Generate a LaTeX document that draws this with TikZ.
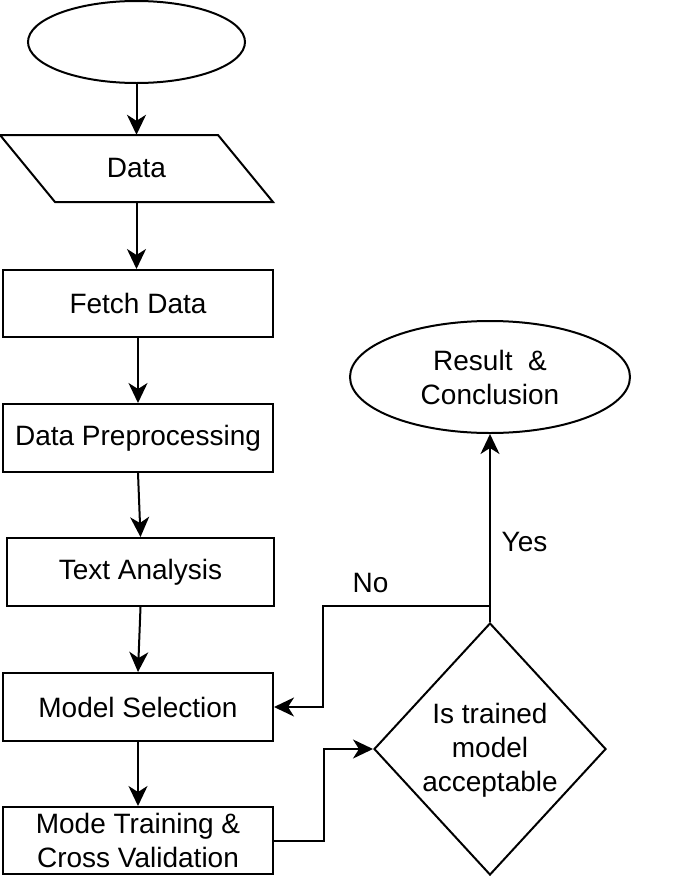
\documentclass[tikz,border=0pt]{standalone}
\usepackage{fontspec}
\setmainfont{Liberation Sans}
\usetikzlibrary{shapes.geometric,arrows.meta}
\begin{document}
\begin{tikzpicture}[x=1pt,y=-1pt,
  every node/.style={font=\fontsize{28}{34}\selectfont, align=center},
  box/.style={draw, line width=2pt, rectangle, inner sep=0pt, minimum width=270pt, minimum height=67pt},
  oval/.style={draw, line width=2pt, ellipse, inner sep=0pt},
  arr/.style={line width=2pt, -{Stealth[length=20pt,width=19pt,inset=6pt]}},
  ln/.style={line width=2pt}]
\useasboundingbox (0,0) rectangle (684,876);
\node[oval, minimum width=217pt, minimum height=82pt] (start) at (136.5,42) {};
\draw[ln] (0,135) -- (218,135) -- (273,202) -- (55,202) -- cycle;
\node[inner sep=0pt, minimum width=273pt, minimum height=67pt] (data) at (136.5,168.5) {Data};
\node[box] (fetch) at (138,303.5) {Fetch Data};
\node[box, minimum height=68pt] (prep) at (138,438) {Data Preprocessing};
\node[box, minimum width=267pt, minimum height=68pt] (text) at (140.5,572) {Text Analysis};
\node[box, minimum height=68pt] (model) at (138,707) {Model Selection};
\node[box] (train) at (138,840.5) {Mode Training \&\\Cross Validation};
\node[draw, line width=2pt, diamond, inner sep=0pt, minimum width=232pt, minimum height=252pt] (dec) at (490,749) {};
\node (dectext) at (490,750) {Is trained\\model\\acceptable};
\node[oval, minimum width=280pt, minimum height=112pt] (result) at (490,377) {Result\ \ \&\\Conclusion};
\coordinate (split) at (490,606);
\coordinate (bend) at (323,606);
\draw[arr] (start) -- (data.north);
\draw[arr] (data.south) -- (data.south |- fetch.north);
\draw[arr] (fetch) -- (prep);
\draw[arr] (prep.south) -- (text.north);
\draw[arr] (text.south) -- (model.north);
\draw[arr] (model) -- (train);
\draw[arr] (train.east) -- ++(50,0) |- (dec.west);
\draw[ln] (dec.north) -- (split);
\draw[arr] (split) -- (result.south);
\draw[arr] (split) -- (bend) |- (model.east);
\node (yes) at (524.5,541.5) {Yes};
\node (no) at (370.5,583) {No};
\end{tikzpicture}
\end{document}
